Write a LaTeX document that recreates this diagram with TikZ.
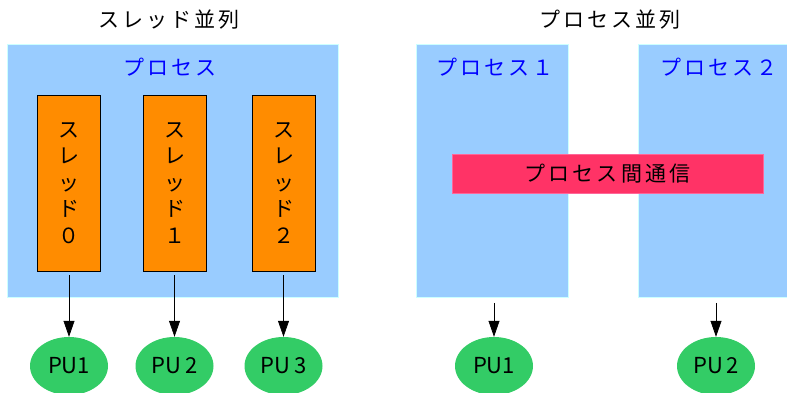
\documentclass[tikz,border=0pt]{standalone}
\usepackage{fontspec}
\setmainfont{Noto Sans CJK JP}
\newfontfamily\jp[LetterSpace=15]{Noto Sans CJK JP}
\newfontfamily\jpn{Noto Sans CJK JP}
\usetikzlibrary{arrows.meta,calc,shapes.geometric}
\definecolor{procfill}{HTML}{99CCFF}
\definecolor{procline}{HTML}{CCFFFF}
\definecolor{thrfill}{HTML}{FF8C00}
\definecolor{pufill}{HTML}{33CC66}
\definecolor{ipcfill}{HTML}{FF3366}
\definecolor{ipcline}{HTML}{FF6699}
\definecolor{bluetxt}{HTML}{0000FF}
\tikzset{
  procbox/.style={draw=procline, fill=procfill, line width=0.8pt, anchor=north west, inner sep=0pt},
  thrbox/.style={draw=black, fill=thrfill, line width=0.6pt, minimum width=63pt, minimum height=176pt, inner sep=0pt, align=center, font=\jpn\fontsize{21}{26.5}\selectfont},
  pu/.style={ellipse, draw=none, fill=pufill, minimum width=78pt, minimum height=58pt, inner sep=0pt, font=\jpn\fontsize{22}{24}\selectfont},
  title/.style={font=\jp\fontsize{21}{24}\selectfont},
  plabel/.style={font=\jp\fontsize{21}{24}\selectfont, text=bluetxt},
  ipc/.style={draw=ipcline, fill=ipcfill, line width=0.6pt, minimum width=311pt, minimum height=39pt, inner sep=0pt, font=\jp\fontsize{21}{24}\selectfont},
  arr/.style={-{Triangle[width=11pt,length=16pt]}, line width=0.7pt}
}
\begin{document}
\begin{tikzpicture}[x=1pt,y=-1pt]
\useasboundingbox (0,0) rectangle (787,393);
% titles
\node[title] (t1) at (169,20) {スレッド並列};
\node[title] (t2) at (610,20) {プロセス並列};
% left process
\node[procbox, minimum width=331pt, minimum height=253pt] (proc) at (7,44) {};
\node[plabel] (procl) at (170,67) {プロセス};
\node[thrbox] (th0) at (69,183) {ス\\レ\\ッ\\ド\\０};
\node[thrbox] (th1) at (174.5,183) {ス\\レ\\ッ\\ド\\１};
\node[thrbox] (th2) at (283.5,183) {ス\\レ\\ッ\\ド\\２};
\node[pu] (pu1) at (69,366) {PU1};
\node[pu] (pu2) at (174.5,366) {PU\,2};
\node[pu] (pu3) at (283.5,366) {PU\,3};
\draw[arr, shorten <=4pt] (th0) -- (pu1);
\draw[arr, shorten <=4pt] (th1) -- (pu2);
\draw[arr, shorten <=4pt] (th2) -- (pu3);
% right processes
\node[procbox, minimum width=152pt, minimum height=253pt] (p1) at (416,44) {};
\node[procbox, minimum width=152pt, minimum height=253pt] (p2) at (638,44) {};
\node[plabel] (p1l) at (495,67) {プロセス１};
\node[plabel] (p2l) at (719,67) {プロセス２};
\node[ipc] (ipc) at (607.5,173.5) {プロセス間通信};
\node[pu] (rpu1) at (494,366) {PU1};
\node[pu] (rpu2) at (716,366) {PU\,2};
\draw[arr, shorten <=5pt] (p1.south -| rpu1) -- (rpu1);
\draw[arr, shorten <=5pt] (p2.south -| rpu2) -- (rpu2);
\end{tikzpicture}
\end{document}
